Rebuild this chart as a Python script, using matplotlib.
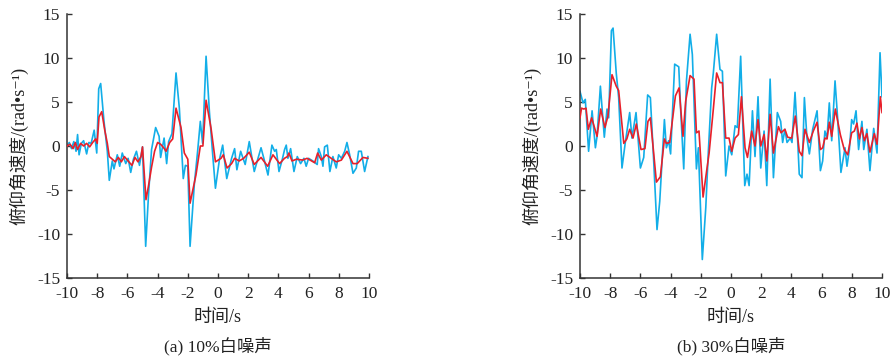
import numpy as np
import matplotlib
matplotlib.use("Agg")
import matplotlib.pyplot as plt

plt.rcParams['axes.unicode_minus'] = False
plt.rcParams['font.family'] = ['Liberation Serif', 'Noto Sans CJK SC', 'DejaVu Serif']

# ---------------- data ----------------
# (a) 10% white noise: noisy measurement (blue)
a_noisy_t = [-10.0, -9.85, -9.7, -9.55, -9.4, -9.3, -9.2, -9.05, -8.9, -8.7, -8.55, -8.4, -8.2, -8.03,
             -7.9, -7.77, -7.55, -7.33, -7.2, -7.0, -6.89, -6.67, -6.51, -6.34, -6.11, -5.95, -5.78,
             -5.6, -5.4, -5.2, -5.0, -4.79, -4.6, -4.4, -4.13, -3.9, -3.8, -3.57, -3.4, -3.27, -3.05,
             -2.78, -2.56, -2.3, -2.16, -2.0, -1.85, -1.57, -1.35, -1.17, -1.02, -0.79, -0.57, -0.35,
             -0.17, 0.09, 0.31, 0.58, 0.9, 1.1, 1.25, 1.5, 1.8, 2.07, 2.4, 2.85, 3.05, 3.31, 3.57,
             3.75, 3.86, 4.04, 4.26, 4.41, 4.52, 4.63, 4.81, 5.03, 5.25, 5.47, 5.69, 5.84, 6.0, 6.28,
             6.57, 6.66, 6.84, 6.95, 7.06, 7.24, 7.41, 7.61, 7.83, 7.99, 8.17, 8.39, 8.54, 8.72, 8.94,
             9.16, 9.31, 9.49, 9.71, 9.93]
a_noisy_v = [0.0, 0.4, -0.3, 0.5, -0.6, 1.3, -1.0, 0.3, 0.6, -0.9, 0.4, 0.3, 1.8, -0.8,
             6.5, 7.1, 2.8, -0.6, -3.9, -1.7, -2.6, -1.0, -2.3, -0.8, -2.0, -1.4, -3.0,
             -1.5, -0.6, -2.2, -0.1, -11.4, -5.5, -0.4, 2.1, 1.1, -1.3, 0.9, -2.0, 0.5, 1.4,
             8.3, 4.3, -3.7, -2.2, -2.3, -11.4, -4.4, -0.6, 2.8, 0.3, 10.2, 3.9, -1.0,
             -4.8, -1.6, 0.1, -3.7, -1.4, -0.3, -2.7, -0.6, -2.1, 0.5, -2.9, -0.2, -1.5, -3.3, 0.1,
             -0.6, -0.4, -2.9, -1.5, -0.4, 0.1, -1.4, -0.3, -2.9, -1.2, -2.0, -1.4, -2.3, -1.4, -1.7,
             -2.1, -0.3, -1.2, -2.3, -0.1, 0.1, -2.9, -1.2, -2.5, -1.0, -1.4, -0.6, 0.4, -1.0, -3.1,
             -2.5, -0.6, -0.6, -2.9, -1.2]

# (a) 10% white noise: filtered estimate (red)
a_filt_t = [-10.0, -9.8, -9.6, -9.45, -9.3, -9.1, -8.9, -8.7, -8.5, -8.3, -8.1, -8.0, -7.88, -7.7,
            -7.5, -7.33, -7.2, -7.0, -6.8, -6.6, -6.4, -6.2, -6.0, -5.7, -5.5, -5.3, -5.1, -5.0,
            -4.77, -4.6, -4.4, -4.2, -4.0, -3.8, -3.6, -3.44, -3.2, -3.0, -2.78, -2.45, -2.23, -2.0,
            -1.85, -1.46, -1.17, -1.0, -0.79, -0.46, -0.17, 0.2, 0.35, 0.6, 0.9, 1.1, 1.4, 1.7,
            2.07, 2.4, 2.85, 3.29, 3.64, 4.08, 4.4, 4.6, 4.7, 4.9, 5.2, 5.6, 5.9, 6.4, 6.6, 6.84,
            7.17, 7.5, 7.83, 8.17, 8.54, 8.94, 9.22, 9.6, 9.93]
a_filt_v = [0.0, 0.2, -0.3, 0.4, -0.4, 0.3, 0.0, 0.3, -0.1, 0.4, 0.8, 0.3, 3.3, 3.9,
            1.8, 0.3, -1.2, -1.5, -1.8, -1.3, -1.8, -1.2, -1.6, -2.2, -1.3, -1.8, -1.2, -0.1,
            -6.1, -4.5, -2.4, -0.6, 0.4, 0.2, -0.2, -0.6, 0.4, 0.8, 4.3, 2.1, -0.8, -1.5,
            -6.5, -3.3, 0.0, 0.0, 5.2, 2.0, -1.8, -1.4, -1.0, -2.5, -2.0, -1.4, -1.7, -1.4,
            -0.7, -2.1, -1.3, -2.3, -1.0, -2.0, -1.4, -1.2, -0.8, -1.7, -1.5, -1.6, -1.4, -1.9, -0.8, -1.6,
            -1.0, -1.4, -1.8, -1.6, -0.6, -2.0, -2.0, -1.3, -1.4]

# (b) 30% white noise: noisy measurement (blue)
b_noisy_t = [-10.0, -9.8, -9.65, -9.43, -9.2, -8.98, -8.87, -8.65, -8.39, -8.21, -8.1, -7.92, -7.81,
             -7.6, -7.44, -7.22, -7.0, -6.71, -6.56, -6.29, -6.0, -5.78, -5.52, -5.34, -5.12, -4.9,
             -4.72, -4.41, -4.28, -4.13, -4.0, -3.73, -3.46, -3.33, -3.13, -2.95, -2.71, -2.56, -2.29,
             -2.16, -1.9, -1.67, -1.5, -1.28, -1.17, -0.95, -0.73, -0.57, -0.35, -0.13, 0.05, 0.27,
             0.42, 0.64, 0.91, 1.06, 1.2, 1.42, 1.59, 1.79, 1.97, 2.19, 2.37, 2.59, 2.81, 3.07, 3.29,
             3.42, 3.57, 3.71, 3.93, 4.04, 4.24, 4.41, 4.52, 4.7, 4.86, 5.03, 5.19, 5.41, 5.7, 5.92,
             6.07, 6.22, 6.36, 6.51, 6.67, 6.89, 7.06, 7.28, 7.55, 7.68, 7.84, 7.99, 8.12, 8.28, 8.45,
             8.67, 8.79, 9.0, 9.2, 9.45, 9.67, 9.87, 10.0]
b_noisy_v = [6.2, 4.9, 5.3, -0.6, 4.0, -0.2, 1.1, 6.8, 1.0, 4.2, 3.2, 13.1, 13.4,
             8.3, 5.5, -2.5, 0.4, 3.8, 0.9, 3.8, -2.5, -1.3, 5.8, 5.5, -1.7, -9.5,
             -6.3, 3.0, -0.2, 0.6, -0.9, 9.3, 9.0, 4.0, -2.6, 7.4, 12.7, 10.4, -2.6,
             -0.2, -12.9, -7.0, -0.6, 6.6, 8.3, 12.7, 8.7, 8.5, -3.4, 0.0, -1.0, 2.3,
             2.1, 10.2, -4.5, -3.2, -4.5, 4.0, -1.2, 5.6, -2.5, 1.7, -4.5, 7.6, -3.6, 3.8, 2.8,
             0.4, 1.9, 0.4, 0.9, 0.4, 6.1, 0.8, -3.2, -3.6, 5.5, 0.9, -0.9, 1.9, 4.0, -2.8,
             -1.7, 1.7, 0.9, 4.9, 0.6, 7.4, 3.2, -3.0, -0.2, -2.3, -0.4, 3.0, 2.5, 4.0, -0.4,
             2.8, -0.4, 1.9, -2.8, 2.0, -0.8, 10.6, 5.6]

# (b) 30% white noise: filtered estimate (red)
b_filt_t = [-10.0, -9.9, -9.75, -9.6, -9.45, -9.23, -8.87, -8.63, -8.35, -8.15, -7.88, -7.6, -7.44,
            -7.1, -6.9, -6.71, -6.49, -6.27, -5.96, -5.7, -5.5, -5.34, -4.94, -4.68, -4.41, -4.28,
            -4.06, -3.68, -3.44, -3.18, -3.0, -2.71, -2.45, -2.29, -2.12, -1.85, -1.45, -1.17, -0.95,
            -0.73, -0.57, -0.35, -0.13, 0.05, 0.27, 0.49, 0.69, 0.93, 1.09, 1.37, 1.59, 1.79, 1.97,
            2.19, 2.37, 2.59, 2.81, 3.14, 3.31, 3.57, 3.75, 4.02, 4.26, 4.52, 4.7, 4.9, 5.19, 5.45,
            5.7, 5.92, 6.07, 6.22, 6.36, 6.51, 6.67, 6.91, 7.24, 7.5, 7.73, 7.99, 8.17, 8.34, 8.5,
            8.67, 8.83, 9.0, 9.2, 9.49, 9.67, 9.89, 10.0]
b_filt_v = [3.2, 4.3, 4.2, 4.3, 1.9, 3.2, 1.1, 4.2, 2.1, 3.4, 8.1, 6.8, 6.3,
            0.3, 0.8, 1.9, 0.9, 2.5, -0.4, -0.3, 2.8, 3.2, -4.1, -3.5, 0.8, 0.3,
            0.4, 5.7, 6.6, 1.1, 5.1, 8.0, 7.6, 1.5, 1.7, -5.8, -0.8, 4.2, 8.3,
            7.2, 7.2, 0.9, 0.9, -0.6, 0.9, 1.3, 5.6, -0.2, -1.3, 1.7, 0.0, 3.0, 0.0,
            1.3, -1.7, 3.6, -0.8, 2.2, 1.5, 1.9, 1.0, 0.9, 3.4, -0.6, -1.1, 1.9, 0.4, 1.7,
            2.7, -0.4, -0.2, 0.9, 0.8, 2.7, 1.1, 4.2, 1.3, -0.4, -1.0, 1.5, 1.7, 2.6, 0.8,
            2.1, 0.6, 1.4, -0.7, 1.4, 0.2, 5.6, 3.8]

x_ticks = [-10, -8, -6, -4, -2, 0, 2, 4, 6, 8, 10]
y_ticks = [-15, -10, -5, 0, 5, 10, 15]
x_label = "时间/s"
y_label = "俯仰角速度/(rad•s⁻¹)"
captions = ["(a) 10%白噪声", "(b) 30%白噪声"]

BLUE = "#12AEE8"
RED = "#E8202A"

fig = plt.figure(figsize=(8.93, 3.58), dpi=100)
W, H = 893.0, 358.0
axes_px = [(67, 369), (580, 882)]
top_px, bot_px = 14, 278

panels = [(a_noisy_t, a_noisy_v, a_filt_t, a_filt_v),
          (b_noisy_t, b_noisy_v, b_filt_t, b_filt_v)]

for i, (x0, x1) in enumerate(axes_px):
    ax = fig.add_axes([x0 / W, 1 - bot_px / H, (x1 - x0) / W, (bot_px - top_px) / H])
    nt, nv, ft, fv = panels[i]
    ax.plot(nt, nv, color=BLUE, lw=1.2, zorder=2)
    ax.plot(ft, fv, color=RED, lw=1.2, zorder=3)
    ax.set_xlim(-10, 10)
    ax.set_ylim(-15, 15)
    ax.set_xticks(x_ticks)
    ax.set_yticks(y_ticks)
    ax.set_xticklabels([str(v) for v in x_ticks])
    ax.set_yticklabels([str(v) for v in y_ticks])
    for s in ("top", "right"):
        ax.spines[s].set_visible(False)
    for s in ("left", "bottom"):
        ax.spines[s].set_color("#333333")
        ax.spines[s].set_linewidth(1.1)
    ax.tick_params(direction="in", length=3.5, width=1.0, color="#333333",
                   labelsize=12.5, colors="#222222", pad=5)
    ax.tick_params(axis="x", pad=6)
    ax.set_xlabel(x_label, fontsize=13, color="#222222", labelpad=5)
    ax.set_ylabel(y_label, fontsize=13, color="#222222", labelpad=6)
    cx = (x0 + x1) / 2.0
    fig.text(cx / W, 1 - 346 / H, captions[i], ha="center", va="center",
             fontsize=12.5, color="#222222")

fig.savefig("out.png", dpi=100)
